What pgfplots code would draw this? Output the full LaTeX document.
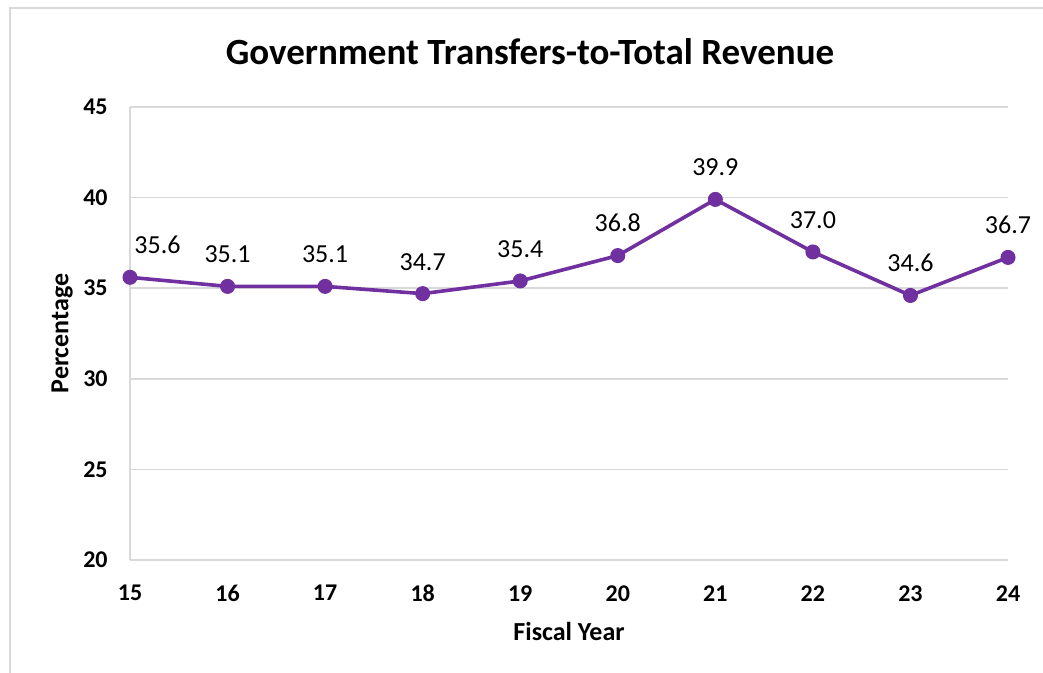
\documentclass[border=0pt]{standalone}
\usepackage{pgfplots}
\pgfplotsset{compat=1.18}
\usepackage{fontspec}
\setmainfont{Carlito}
\definecolor{linepurple}{HTML}{7030A0}
\definecolor{gridgray}{HTML}{D9D9D9}

\begin{document}
\begin{tikzpicture}
	% page is 1043 x 673 px at 0.5pt per px
	\useasboundingbox (0,0) rectangle (521.5pt,-336.5pt);
	\draw[gridgray, line width=0.9pt] (5pt,-4pt) rectangle (540pt,-360pt);
	\begin{axis}[
		at={(65pt,-280pt)},
		anchor=south west,
		scale only axis,
		width=439pt,
		height=226.5pt,
		xmin=15, xmax=24,
		ymin=20, ymax=45,
		xtick={15,...,24},
		ytick={20,25,...,45},
		axis line style={gridgray, line width=0.8pt},
		axis x line*=bottom,
		axis y line*=left,
		ymajorgrids,
		grid style={gridgray, line width=0.8pt},
		major tick length=0pt,
		clip=false,
		/pgf/number format/assume math mode=true,
		ticklabel style={font=\fontsize{12}{14}\selectfont\bfseries, inner sep=0pt},
		yticklabel style={anchor=east, xshift=-11pt},
		xticklabel style={anchor=north, yshift=-12.5pt},
		every axis title shift=0pt,
		title={Government Transfers-to-Total Revenue},
		title style={font=\fontsize{18.5}{22}\selectfont\bfseries, at={(axis description cs:0.4556,1.1214)}, anchor=center},
		xlabel={Fiscal Year},
		xlabel style={font=\fontsize{13}{15}\selectfont\bfseries, at={(axis description cs:0.5,-0.1567)}, anchor=center},
		ylabel={Percentage},
		ylabel style={font=\fontsize{13}{15}\selectfont\bfseries, at={(axis description cs:-0.0774,0.5)}, anchor=center, rotate=0},
	]
	\addplot[
		color=linepurple,
		line width=1.8pt,
		mark=*,
		mark size=3.5pt,
		mark options={fill=linepurple, draw=linepurple, line width=0.5pt},
	] coordinates {(15,35.6) (16,35.1) (17,35.1) (18,34.7) (19,35.4) (20,36.8) (21,39.9) (22,37.0) (23,34.6) (24,36.7)};
	% data labels
	\addplot[
		draw=none, mark=none,
		nodes near coords,
		point meta=explicit symbolic,
		nodes near coords style={anchor=south, inner sep=0pt, yshift=11.5pt, font=\fontsize{13}{15}\selectfont, text=black},
	] coordinates {(16,35.1) [35.1] (17,35.1) [35.1] (18,34.7) [34.7] (19,35.4) [35.4] (20,36.8) [36.8] (21,39.9) [39.9] (22,37.0) [37.0] (23,34.6) [34.6] (24,36.7) [36.7]};
	\addplot[
		draw=none, mark=none,
		nodes near coords,
		point meta=explicit symbolic,
		nodes near coords style={anchor=south, inner sep=0pt, yshift=11.5pt, xshift=13.75pt, font=\fontsize{13}{15}\selectfont, text=black},
	] coordinates {(15,35.6) [35.6]};
	\end{axis}
\end{tikzpicture}
\end{document}
